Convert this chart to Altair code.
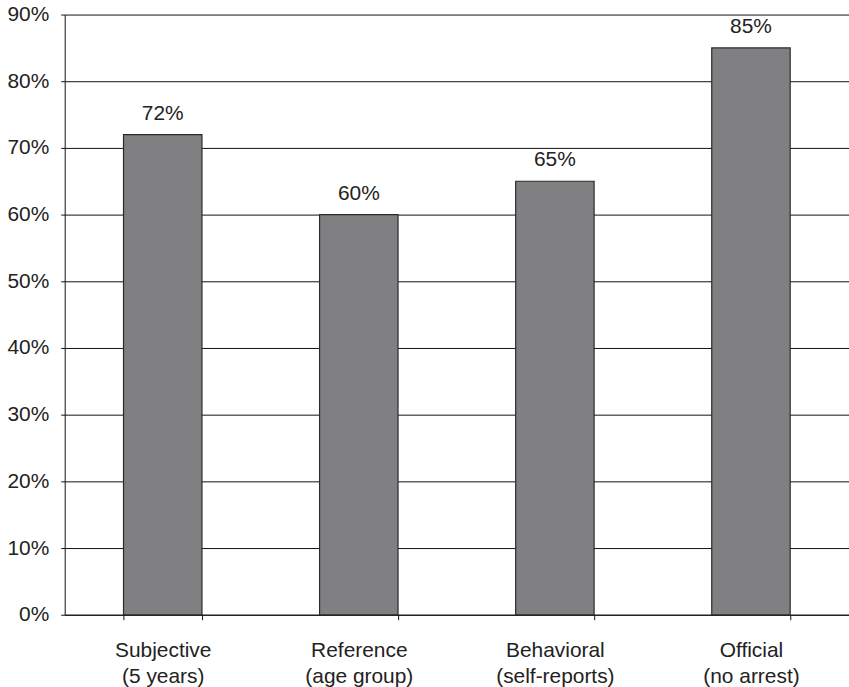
import altair as alt
import pandas as pd

categories = ["Subjective\n(5 years)", "Reference\n(age group)", "Behavioral\n(self-reports)", "Official\n(no arrest)"]
values = [0.72, 0.60, 0.65, 0.85]
labels = ["72%", "60%", "65%", "85%"]

df = pd.DataFrame({"cat": categories, "val": values, "lab": labels})

FONT = "Liberation Sans"
FS = 21

x = alt.X("cat:N", sort=categories, title=None,
          scale=alt.Scale(paddingInner=0.6, paddingOuter=0.3),
          axis=alt.Axis(labelAngle=0, labelExpr="split(datum.label, '\\n')",
                        tickBand="extent", tickSize=5, tickColor="#111", domainColor="#111",
                        labelFontSize=FS, labelFont=FONT, labelColor="#222",
                        labelPadding=20, labelLineHeight=26, grid=False))
y = alt.Y("val:Q", title=None,
          scale=alt.Scale(domain=[0, 0.9], nice=False),
          axis=alt.Axis(format=".0%", values=[i / 10 for i in range(10)],
                        tickSize=4, tickColor="#111", domainColor="#111",
                        gridColor="#111", gridOpacity=1, gridWidth=1,
                        labelFontSize=FS, labelFont=FONT, labelColor="#222",
                        labelPadding=12))

bars = alt.Chart(df).mark_bar(color="#808083", stroke="#2a2a2a", strokeWidth=1.2).encode(x=x, y=y)
text = alt.Chart(df).mark_text(font=FONT, fontSize=FS, color="#222", baseline="alphabetic", dy=-15).encode(
    x=alt.X("cat:N", sort=categories), y="val:Q", text="lab:N")

chart = (bars + text).properties(
    width=788, height=603,
    autosize=alt.AutoSizeParams(type="none"),
    padding={"left": 65, "top": 13, "right": 0, "bottom": 71},
).configure_view(stroke=None)

chart.save("out.html", embed_options={"renderer": "svg", "actions": False})
